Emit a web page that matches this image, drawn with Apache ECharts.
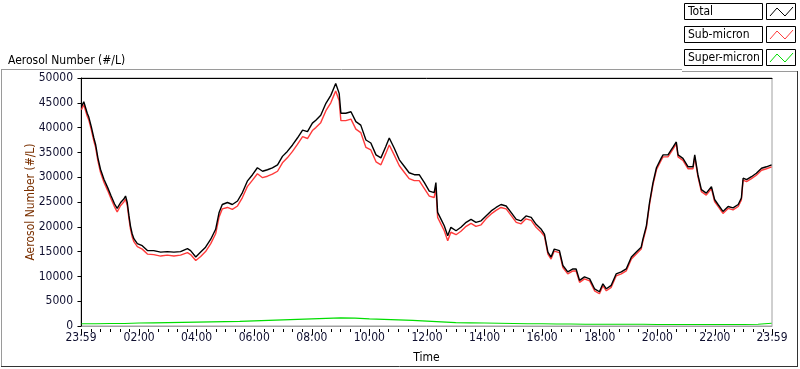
<!DOCTYPE html>
<html>
<head>
<meta charset="utf-8">
<script src="https://cdn.jsdelivr.net/npm/echarts@6/dist/echarts.min.js"></script>
<style>
  html, body { margin: 0; padding: 0; background: #fff; }
  #chart { width: 800px; height: 369px; }
</style>
</head>
<body>
<div id="chart"></div>
<script>
// hours since 00:00 (axis runs 23:59 -> 23:59)
const sampleHours = [
  0.00, 0.08, 0.20, 0.25, 0.34, 0.43, 0.49, 0.57, 0.66, 0.78, 0.91, 1.03, 1.15, 1.24, 1.36, 1.47, 1.53, 1.59, 1.65, 1.70,
  1.76, 1.82, 1.94, 2.11, 2.29, 2.51, 2.75, 2.98, 3.21, 3.44, 3.68, 3.79, 3.97, 4.14, 4.31, 4.49, 4.66, 4.78, 4.89, 5.07,
  5.24, 5.42, 5.59, 5.76, 5.94, 6.11, 6.29, 6.46, 6.63, 6.81, 6.98, 7.15, 7.33, 7.50, 7.68, 7.85, 8.02, 8.14, 8.31, 8.49,
  8.66, 8.78, 8.83, 8.95, 9.01, 9.18, 9.36, 9.53, 9.70, 9.88, 10.05, 10.23, 10.40, 10.57, 10.69, 10.86, 11.04, 11.21, 11.38, 11.56,
  11.73, 11.79, 11.91, 12.08, 12.25, 12.31, 12.37, 12.49, 12.60, 12.72, 12.83, 13.01, 13.18, 13.36, 13.53, 13.70, 13.88, 14.05, 14.23, 14.40,
  14.57, 14.75, 14.92, 15.10, 15.27, 15.44, 15.62, 15.79, 15.97, 16.08, 16.20, 16.31, 16.42, 16.60, 16.72, 16.89, 17.07, 17.18, 17.30, 17.47,
  17.65, 17.82, 17.99, 18.11, 18.23, 18.40, 18.57, 18.75, 18.92, 19.10, 19.27, 19.44, 19.50, 19.62, 19.73, 19.85, 19.97, 20.14, 20.20, 20.37,
  20.55, 20.66, 20.72, 20.89, 21.07, 21.24, 21.30, 21.41, 21.53, 21.70, 21.88, 21.99, 22.11, 22.28, 22.46, 22.63, 22.81, 22.92, 22.98, 23.10,
  23.27, 23.44, 23.62, 23.79, 23.97
];
const totalValues = [
  44200, 45200, 42900, 42200, 40200, 37900, 36600, 33900, 31600, 29600, 27900, 26200, 24600, 23700, 24900, 25600, 26200, 24900, 22200, 20200,
  18600, 17600, 16600, 16200, 15200, 15200, 14900, 15000, 14900, 15000, 15600, 15200, 13900, 14900, 15900, 17500, 19500, 22900, 24500, 24900,
  24500, 25200, 26900, 29200, 30500, 31900, 31200, 31500, 31900, 32500, 34200, 35200, 36500, 37900, 39500, 39200, 40900, 41500, 42500, 44900,
  46500, 48200, 48900, 46900, 42900, 42900, 43200, 41200, 40500, 37500, 36900, 34500, 33900, 36200, 37900, 35900, 33500, 32200, 30900, 30500,
  30500, 30200, 28900, 27200, 26900, 28900, 22900, 21500, 20200, 18200, 19900, 19200, 19900, 20900, 21500, 20900, 21200, 22200, 23200, 23900,
  24500, 24200, 22900, 21500, 21200, 22200, 21900, 20500, 19500, 18500, 14900, 13900, 15500, 15200, 12200, 10900, 11500, 11500, 9200, 9900,
  9500, 7500, 6900, 8500, 7500, 8200, 10500, 10900, 11500, 13900, 14900, 15900, 17500, 20200, 24900, 28900, 31900, 33900, 34500, 34500,
  36100, 37100, 34500, 33800, 32100, 32100, 34500, 30500, 27500, 26800, 28100, 25500, 24500, 23100, 24100, 23800, 24500, 25800, 29800, 29500,
  30100, 30800, 31800, 32100, 32500
];
const subValues = [
  43600, 44600, 42300, 41600, 39600, 37300, 36000, 33300, 31000, 29000, 27300, 25600, 24000, 23000, 24300, 25000, 25600, 24300, 21600, 19600,
  18000, 17000, 16000, 15500, 14500, 14400, 14100, 14300, 14100, 14300, 14800, 14400, 13200, 14000, 15000, 16600, 18600, 22000, 23600, 23900,
  23500, 24200, 25900, 28100, 29400, 30700, 29900, 30200, 30600, 31200, 32900, 33900, 35200, 36600, 38200, 37800, 39400, 40000, 41000, 43400,
  45000, 46700, 47400, 45400, 41400, 41400, 41700, 39700, 39000, 36000, 35500, 33100, 32500, 34800, 36500, 34500, 32300, 31000, 29700, 29300,
  29300, 29000, 27700, 26200, 25900, 27900, 21900, 20500, 19200, 17200, 18900, 18400, 19100, 20100, 20700, 20100, 20400, 21600, 22600, 23300,
  23900, 23600, 22300, 20900, 20600, 21600, 21300, 19900, 18900, 18100, 14500, 13500, 15100, 14800, 11800, 10500, 11100, 11100, 8800, 9500,
  9100, 7100, 6500, 8100, 7100, 7800, 10100, 10500, 11100, 13500, 14500, 15500, 17100, 19800, 24500, 28500, 31500, 33500, 34100, 34100,
  35700, 36700, 34100, 33400, 31700, 31700, 34100, 30100, 27100, 26400, 27700, 25100, 24100, 22700, 23700, 23400, 24100, 25400, 29400, 29100,
  29700, 30400, 31400, 31700, 32100
];
const superHours = [
  0, 0.5, 1, 1.5, 2, 2.5, 3, 3.5, 4, 4.5, 5, 5.5, 6, 6.5, 7, 7.5, 8, 8.5, 9, 9.5, 10, 10.5, 11, 11.5,
  12, 12.5, 13, 13.5, 14, 14.5, 15, 15.5, 16, 16.5, 17, 17.5, 18, 18.5, 19, 19.5, 20, 20.5, 21, 21.5, 22, 22.5, 23, 23.5, 23.97
];
const superValues = [
  450, 450, 500, 500, 600, 650, 700, 750, 800, 850, 900, 950, 1050, 1150, 1250, 1350, 1450, 1550, 1650, 1600, 1450, 1350, 1250, 1150,
  1000, 850, 700, 650, 600, 550, 500, 450, 450, 400, 400, 350, 350, 350, 350, 350, 300, 300, 300, 300, 300, 300, 300, 350, 550
];
const majorTicks = [-1 / 60, 2, 4, 6, 8, 10, 12, 14, 16, 18, 20, 22, 24 - 1 / 60];
const seriesNames = ['Total', 'Sub-micron', 'Super-micron'];
const seriesColors = ['#000000', '#ff3b3b', '#00dd00'];

const minorTicks = [];
for (let m = 20; m < 24 * 60; m += 20) {
  if (m % 120 !== 0) minorTicks.push(m / 60);
}

function pairs(xs, ys) {
  return xs.map((x, i) => [x, ys[i]]);
}
function timeLabel(v) {
  if (v < 0 || v > 23.9) return '23:59';
  const h = Math.round(v);
  return (h < 10 ? '0' + h : '' + h) + ':00';
}

const font = '"DejaVu Sans Condensed", "DejaVu Sans", sans-serif';
const xMin = -1 / 60, xMax = 24 - 1 / 60;

// legend boxes drawn by hand, LabVIEW style
const legendItems = [];
seriesNames.forEach((name, i) => {
  const y = 3 + i * 23;
  legendItems.push(
    { type: 'rect', shape: { x: 684.5, y: y + 0.5, width: 78, height: 16 }, style: { fill: '#fff', stroke: '#000', lineWidth: 1 } },
    { type: 'text', x: 688, y: y + 9, style: { text: name, font: '12px ' + font, fill: '#000', verticalAlign: 'middle' } },
    { type: 'rect', shape: { x: 766.5, y: y + 0.5, width: 29, height: 16 }, style: { fill: '#fff', stroke: '#000', lineWidth: 1 } },
    { type: 'polyline', shape: { points: [[770, y + 13], [777, y + 5], [785, y + 13], [793, y + 4]] }, style: { stroke: seriesColors[i], lineWidth: 1, fill: null } }
  );
});

const chart = echarts.init(document.getElementById('chart'), null, { renderer: 'canvas' });
chart.setOption({
  animation: false,
  backgroundColor: '#fff',
  title: {
    text: 'Aerosol Number (#/L)',
    left: 3, top: 50,
    textStyle: { fontFamily: font, fontSize: 12, fontWeight: 'normal', color: '#000' }
  },
  grid: {
    left: 81, right: 28, top: 78, bottom: 40,
    show: true, backgroundColor: '#fff', borderColor: '#a0a0a0', borderWidth: 1
  },
  xAxis: [
    {
      type: 'value', min: xMin, max: xMax, position: 'bottom',
      name: 'Time', nameLocation: 'middle', nameGap: 26,
      nameTextStyle: { fontFamily: font, fontSize: 12, color: '#000' },
      axisLine: { show: true, lineStyle: { color: '#a0a0a0' } },
      axisTick: { show: false }, axisLabel: { show: false }, splitLine: { show: false }
    },
    {
      type: 'value', min: xMin, max: xMax, position: 'bottom', offset: 3,
      axisLine: { show: false },
      axisTick: { show: true, length: 6, customValues: majorTicks, lineStyle: { color: '#000' } },
      axisLabel: { show: true, customValues: majorTicks, margin: 3, formatter: timeLabel,
        fontFamily: font, fontSize: 12, color: '#101030' },
      splitLine: { show: false }
    },
    {
      type: 'value', min: xMin, max: xMax, position: 'bottom', offset: 3,
      axisLine: { show: false },
      axisTick: { show: true, length: 3, customValues: minorTicks, lineStyle: { color: '#000' } },
      axisLabel: { show: false }, splitLine: { show: false }
    },
    {
      type: 'value', min: xMin, max: xMax, position: 'top',
      axisLine: { show: true, lineStyle: { color: '#000' } },
      axisTick: { show: false }, axisLabel: { show: false }, splitLine: { show: false }
    }
  ],
  yAxis: {
    type: 'value', min: 0, max: 50000, interval: 5000,
    name: 'Aerosol Number (#/L)', nameLocation: 'middle', nameGap: 44, nameMoveOverlap: false,
    nameTextStyle: { fontFamily: font, fontSize: 12, color: '#7a3000' },
    axisLine: { show: true, lineStyle: { color: '#000' } },
    axisTick: { show: true, length: 4, lineStyle: { color: '#000' } },
    axisLabel: { margin: 8, fontFamily: font, fontSize: 12, color: '#101030', formatter: v => String(v) },
    splitLine: { show: false }
  },
  series: [
    {
      name: seriesNames[2], type: 'line', xAxisIndex: 0, data: pairs(superHours, superValues),
      symbol: 'none', lineStyle: { color: seriesColors[2], width: 1.2 }, z: 2
    },
    {
      name: seriesNames[1], type: 'line', xAxisIndex: 0, data: pairs(sampleHours, subValues),
      symbol: 'none', lineStyle: { color: seriesColors[1], width: 1.4 }, z: 3
    },
    {
      name: seriesNames[0], type: 'line', xAxisIndex: 0, data: pairs(sampleHours, totalValues),
      symbol: 'none', lineStyle: { color: seriesColors[0], width: 1.4 }, z: 4
    }
  ],
  graphic: [
    { type: 'line', shape: { x1: 1, y1: 69.5, x2: 682, y2: 69.5 }, style: { stroke: '#9a9a9a', lineWidth: 1 } },
    { type: 'line', shape: { x1: 682, y1: 71.5, x2: 797, y2: 71.5 }, style: { stroke: '#9a9a9a', lineWidth: 1 } },
    { type: 'line', shape: { x1: 1.5, y1: 69, x2: 1.5, y2: 367 }, style: { stroke: '#9a9a9a', lineWidth: 1 } },
    { type: 'line', shape: { x1: 1, y1: 366.5, x2: 798, y2: 366.5 }, style: { stroke: '#333', lineWidth: 1 } },
    { type: 'line', shape: { x1: 797.5, y1: 71, x2: 797.5, y2: 367 }, style: { stroke: '#333', lineWidth: 1 } }
  ].concat(legendItems)
});
</script>
</body>
</html>
